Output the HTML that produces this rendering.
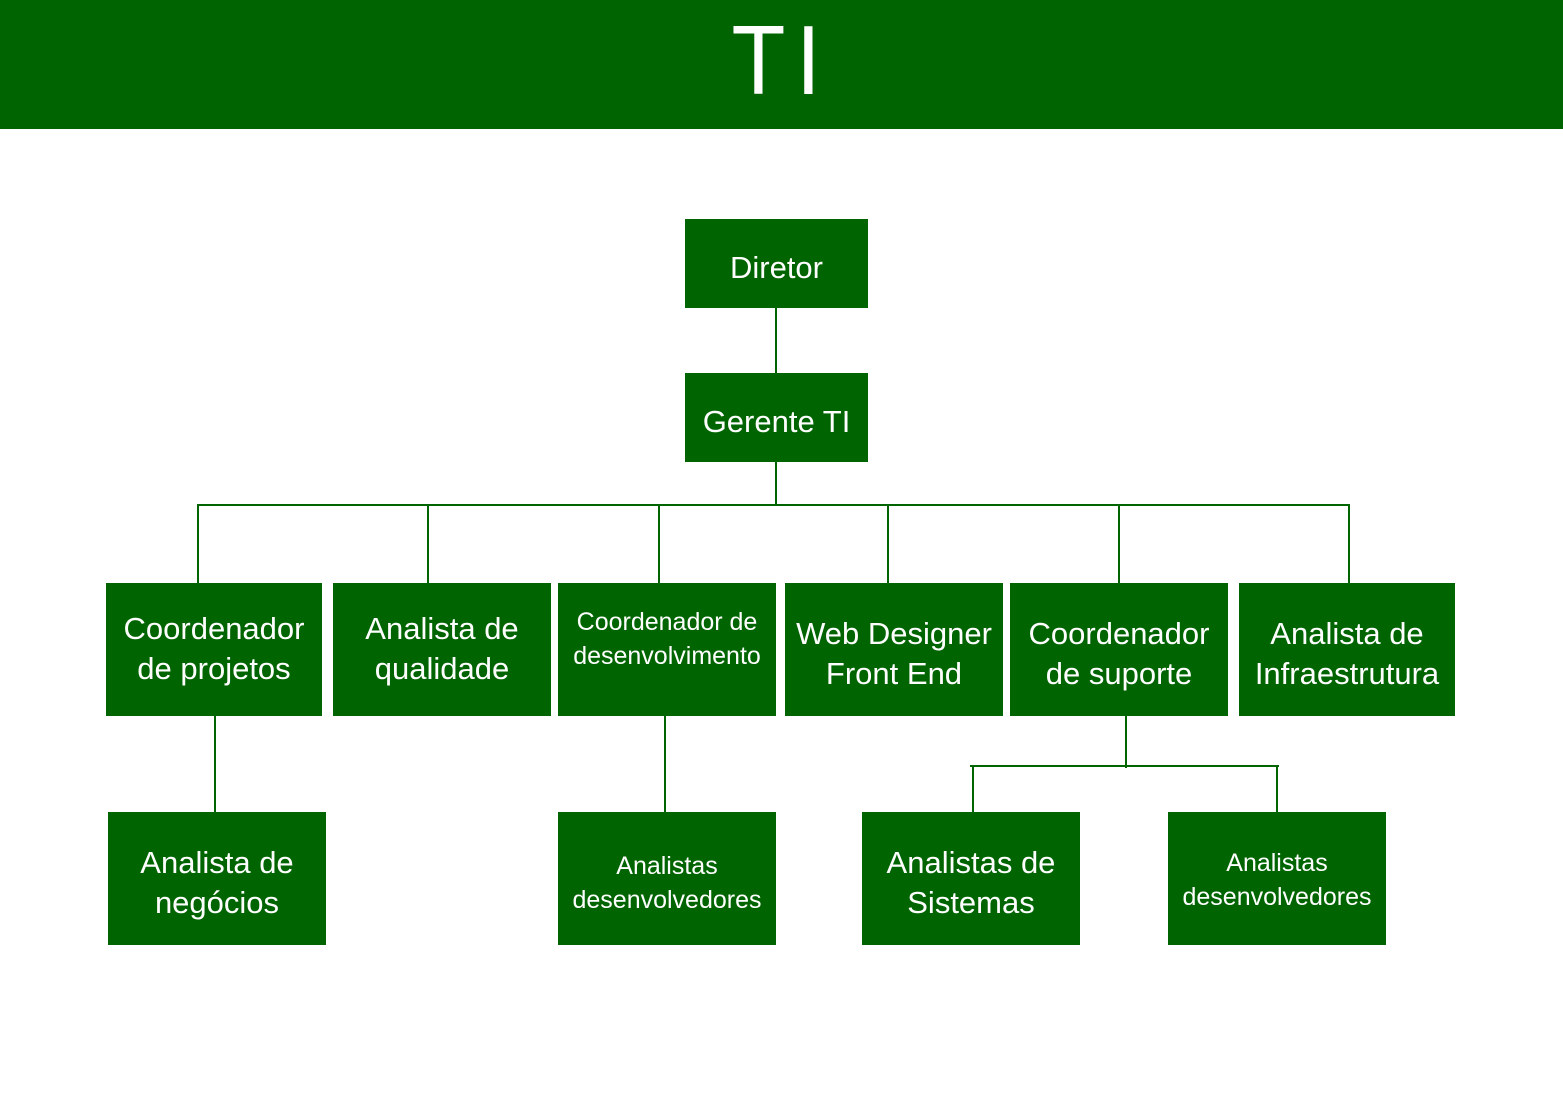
<!DOCTYPE html>
<html><head><meta charset="utf-8"><style>
body{margin:0;width:1563px;height:1104px;background:#fff;position:relative;overflow:hidden;font-family:"Liberation Sans","DejaVu Sans",sans-serif}
.hd{position:absolute;left:0;top:0;width:1563px;height:129px;background:#006400}
.t{position:absolute;left:0;top:10px;width:1563px;text-align:center;color:#fff;font-size:98px;font-weight:100;line-height:100px;letter-spacing:12px;transform:scaleX(0.9)}
.b{position:absolute;background:#006400;color:#fff;display:flex;align-items:center;justify-content:center;text-align:center;font-size:31px;line-height:40px;box-sizing:border-box;padding-top:8px}
.s{font-size:25px;line-height:34px}
.l{position:absolute;background:#006400}
</style></head><body>
<div class="hd"></div><div class="t">TI</div>
<div class="l" style="left:775px;top:308px;width:2px;height:66px"></div>
<div class="l" style="left:775px;top:462px;width:2px;height:44px"></div>
<div class="l" style="left:197px;top:504px;width:1153px;height:2px"></div>
<div class="l" style="left:197px;top:504px;width:2px;height:80px"></div>
<div class="l" style="left:427px;top:504px;width:2px;height:80px"></div>
<div class="l" style="left:658px;top:504px;width:2px;height:80px"></div>
<div class="l" style="left:887px;top:504px;width:2px;height:80px"></div>
<div class="l" style="left:1118px;top:504px;width:2px;height:80px"></div>
<div class="l" style="left:1348px;top:504px;width:2px;height:80px"></div>
<div class="l" style="left:214px;top:716px;width:2px;height:97px"></div>
<div class="l" style="left:664px;top:716px;width:2px;height:97px"></div>
<div class="l" style="left:1125px;top:716px;width:2px;height:52px"></div>
<div class="l" style="left:970px;top:765px;width:309px;height:2px"></div>
<div class="l" style="left:972px;top:765px;width:2px;height:48px"></div>
<div class="l" style="left:1276px;top:765px;width:2px;height:48px"></div>
<div class="b" style="left:685px;top:219px;width:183px;height:89px">Diretor</div>
<div class="b" style="left:685px;top:373px;width:183px;height:89px">Gerente TI</div>
<div class="b" style="left:106px;top:583px;width:216px;height:133px;padding-bottom:10px">Coordenador<br>de projetos</div>
<div class="b" style="left:333px;top:583px;width:218px;height:133px;padding-bottom:10px">Analista de<br>qualidade</div>
<div class="b s" style="left:558px;top:583px;width:218px;height:133px;padding-bottom:30px">Coordenador de<br>desenvolvimento</div>
<div class="b" style="left:785px;top:583px;width:218px;height:133px">Web Designer<br>Front End</div>
<div class="b" style="left:1010px;top:583px;width:218px;height:133px">Coordenador<br>de suporte</div>
<div class="b" style="left:1239px;top:583px;width:216px;height:133px">Analista de<br>Infraestrutura</div>
<div class="b" style="left:108px;top:812px;width:218px;height:133px">Analista de<br>negócios</div>
<div class="b s" style="left:558px;top:812px;width:218px;height:133px">Analistas<br>desenvolvedores</div>
<div class="b" style="left:862px;top:812px;width:218px;height:133px">Analistas de<br>Sistemas</div>
<div class="b s" style="left:1168px;top:812px;width:218px;height:133px;padding-bottom:6px">Analistas<br>desenvolvedores</div>
</body></html>
